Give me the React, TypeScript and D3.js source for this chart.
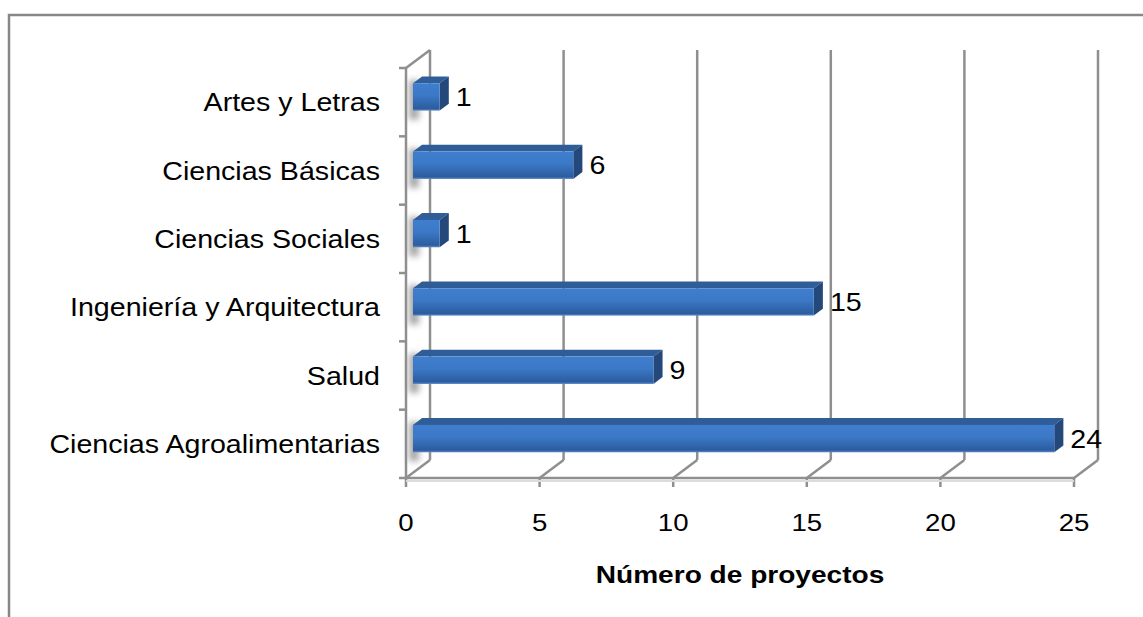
import React from "react";
import * as d3 from "d3";

const categories = [
  "Artes y Letras",
  "Ciencias Básicas",
  "Ciencias Sociales",
  "Ingeniería y Arquitectura",
  "Salud",
  "Ciencias Agroalimentarias",
];
const values = [1, 6, 1, 15, 9, 24];
const xTicks = [0, 5, 10, 15, 20, 25];
const axisTitle = "Número de proyectos";

const W = 1143;
const H = 617;
const FX0 = 406; // front-left x
const FX1 = 1074; // front x at 25
const FY0 = 68; // front top
const FY1 = 478; // front bottom
const DX = 24; // depth offset
const DY = -18;
const F1 = 0.29;
const F2 = 0.67;
const FONT = "'Liberation Sans', Arial, sans-serif";
const GRID = "#8f8f8f";

export default function App() {
  const x = d3.scaleLinear().domain([0, 25]).range([FX0, FX1]);
  const y = d3
    .scaleBand<string>()
    .domain(categories)
    .range([FY0, FY1])
    .paddingInner(0.6)
    .paddingOuter(0.3);
  const step = y.step();
  const bw = y.bandwidth();
  const ddx = (F2 - F1) * DX;
  const ddy = (F2 - F1) * DY;

  const pts = (p: number[][]) => p.map((q) => q.join(",")).join(" ");

  return (
    <svg
      width={W}
      height={H}
      style={{ position: "absolute", left: 0, top: 0, background: "#fff" }}
      fontFamily={FONT}
    >
      <defs>
        <linearGradient id="front" x1="0" y1="0" x2="0" y2="1">
          <stop offset="0" stopColor="#3f7ecf" />
          <stop offset="0.45" stopColor="#3b78c6" />
          <stop offset="0.92" stopColor="#2c5c9e" />
          <stop offset="1" stopColor="#5a8acb" />
        </linearGradient>
        <filter id="blur" x="-100%" y="-50%" width="300%" height="200%">
          <feGaussianBlur stdDeviation="3" />
        </filter>
      </defs>

      {/* outer frame */}
      <rect x={9} y={15} width={1300} height={800} fill="none" stroke="#878787" strokeWidth={2.5} />

      {/* bar shadows on the left wall */}
      {categories.map((c) => {
        const y0 = (y(c) as number) + F1 * DY;
        return (
          <rect
            key={"s" + c}
            x={409}
            y={y0 - 3}
            width={10}
            height={bw + 12}
            fill="#8a8a8a"
            opacity={0.75}
            filter="url(#blur)"
          />
        );
      })}

      {/* back wall gridlines */}
      {xTicks.map((t) => (
        <g key={"g" + t}>
          <line x1={x(t) + DX} y1={FY0 + DY} x2={x(t) + DX} y2={FY1 + DY} stroke={GRID} strokeWidth={2.5} />
          <line x1={x(t)} y1={FY1} x2={x(t) + DX} y2={FY1 + DY} stroke={GRID} strokeWidth={2.5} />
          <line x1={x(t)} y1={FY1} x2={x(t)} y2={FY1 + 9} stroke={GRID} strokeWidth={2.5} />
        </g>
      ))}

      {/* floor front edge */}
      <line x1={FX0} y1={FY1 + 3} x2={FX1} y2={FY1 + 3} stroke="#dcdcdc" strokeWidth={2} />
      <line x1={FX0} y1={FY1} x2={FX1} y2={FY1} stroke={GRID} strokeWidth={2.5} />

      {/* left wall */}
      <line x1={FX0} y1={FY0} x2={FX0} y2={FY1} stroke={GRID} strokeWidth={2.5} />
      <line x1={FX0} y1={FY0} x2={FX0 + DX} y2={FY0 + DY} stroke={GRID} strokeWidth={2.5} />
      {d3.range(categories.length + 1).map((i) => (
        <line
          key={"ct" + i}
          x1={FX0 - 7}
          y1={FY0 + i * step}
          x2={FX0}
          y2={FY0 + i * step}
          stroke={GRID}
          strokeWidth={2.5}
        />
      ))}

      {/* bars */}
      {categories.map((c, i) => {
        const v = values[i];
        const x0 = x(0) + F1 * DX;
        const x1 = x(v) + F1 * DX;
        const y0 = (y(c) as number) + F1 * DY;
        const y1 = y0 + bw;
        return (
          <g key={"b" + c}>
            <polygon
              points={pts([
                [x0, y0],
                [x1, y0],
                [x1 + ddx, y0 + ddy],
                [x0 + ddx, y0 + ddy],
              ])}
              fill="#2f5d97"
            />
            <polygon
              points={pts([
                [x1, y0],
                [x1 + ddx, y0 + ddy],
                [x1 + ddx, y1 + ddy],
                [x1, y1],
              ])}
              fill="#24487a"
            />
            <rect x={x0} y={y0} width={x1 - x0} height={bw} fill="url(#front)" />
            <text
              transform={`translate(${x1 + ddx + 7},${y0 + bw / 2}) scale(1.1,1)`}
              fontSize={26}
              dominantBaseline="central"
              fill="#000"
            >
              {v}
            </text>
          </g>
        );
      })}

      {/* category labels */}
      {categories.map((c) => (
        <text
          key={"l" + c}
          transform={`translate(380,${(y(c) as number) + bw / 2}) scale(1.1,1)`}
          fontSize={26}
          textAnchor="end"
          dominantBaseline="central"
          fill="#000"
        >
          {c}
        </text>
      ))}

      {/* x tick labels */}
      {xTicks.map((t) => (
        <text
          key={"t" + t}
          transform={`translate(${x(t)},${523}) scale(1.15,1)`}
          fontSize={24}
          textAnchor="middle"
          dominantBaseline="central"
          fill="#000"
        >
          {t}
        </text>
      ))}

      {/* axis title */}
      <text
        transform={`translate(740,575) scale(1.17,1)`}
        fontSize={24}
        fontWeight="bold"
        textAnchor="middle"
        dominantBaseline="central"
        fill="#000"
      >
        {axisTitle}
      </text>
    </svg>
  );
}
